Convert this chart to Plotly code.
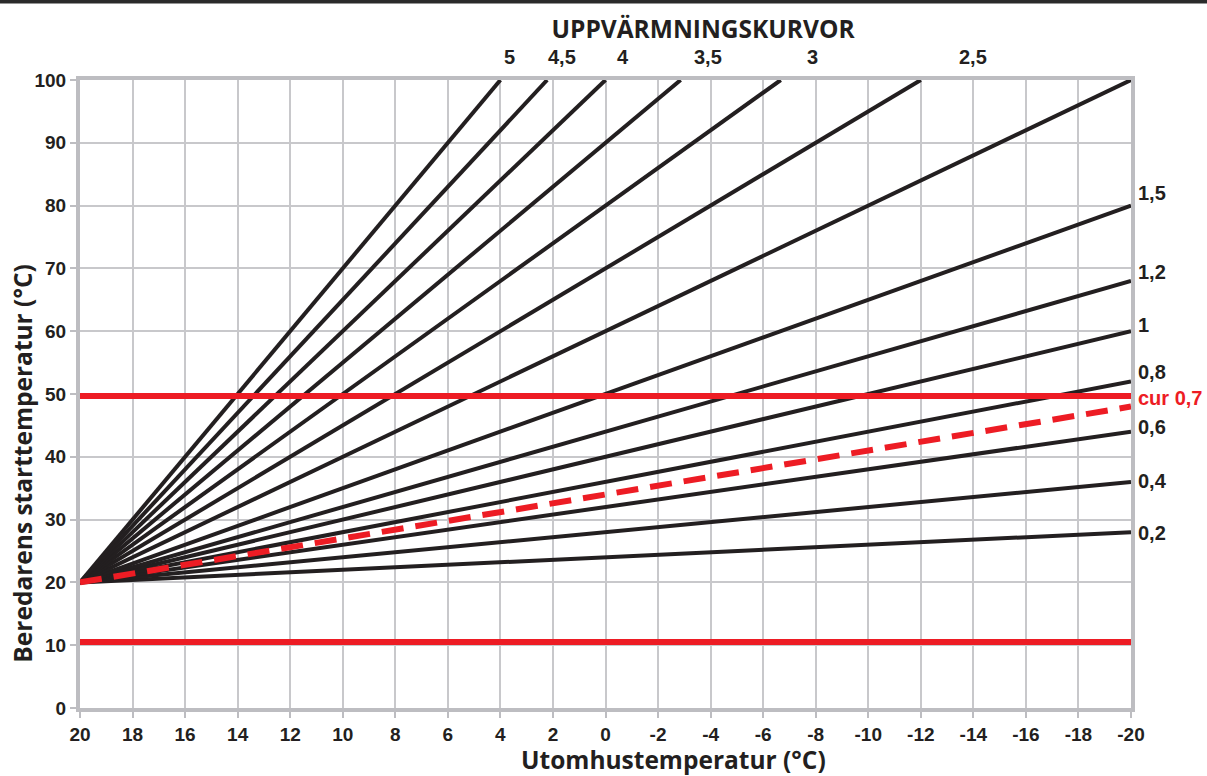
import plotly.graph_objects as go

# ---- data ----
curve_names = ["0,2", "0,4", "0,6", "0,8", "1", "1,2", "1,5", "2", "2,5", "3", "3,5", "4", "4,5", "5"]
start_x = 20
start_y = 20
end_x = [-20, -20, -20, -20, -20, -20, -20, -20, -12, -6.67, -2.86, 0, 2.22, 4]
end_y = [28, 36, 44, 52, 60, 68, 80, 100, 100, 100, 100, 100, 100, 100]

cur_name = "cur 0,7"
cur_end_x = -20
cur_end_y = 48

limit_high = 49.7
limit_low = 10.5

x_ticks = list(range(20, -21, -2))
y_ticks = list(range(0, 101, 10))

# label placement (layout)
top_labels = ["5", "4,5", "4", "3,5", "3", "2,5"]
top_label_x = [3.94, 2.26, -0.36, -3.29, -7.59, -13.38]
top_label_y = 1.016  # paper
right_labels = ["1,5", "1,2", "1", "0,8", "0,6", "0,4", "0,2"]
right_label_y = [82, 69.4, 61, 53.5, 44.7, 36.1, 27.9]
cur_label_y = 49.4

BLACK = "#231f20"
RED = "#ed1c24"
GRID = "#c8c8cb"
FRAME = "#bdbdc1"

fig = go.Figure()

for name, ex, ey in zip(curve_names, end_x, end_y):
    fig.add_trace(go.Scatter(x=[start_x, ex], y=[start_y, ey], mode="lines", name=name,
                             line=dict(color=BLACK, width=4), showlegend=False))

# horizontal red limits
for yv in [limit_high, limit_low]:
    fig.add_trace(go.Scatter(x=[20, -20], y=[yv, yv], mode="lines",
                             line=dict(color=RED, width=6), hoverinfo="skip", showlegend=False))

fig.add_trace(go.Scatter(x=[start_x, cur_end_x], y=[start_y, cur_end_y], mode="lines", name=cur_name,
                         line=dict(color=RED, width=6, dash="22px,12px"), showlegend=False))

lab_font = dict(family="Liberation Sans", size=20, color=BLACK, weight="bold")
for t, xv in zip(top_labels, top_label_x):
    fig.add_annotation(x=xv, xref="x", y=top_label_y, yref="paper", text=t, showarrow=False,
                       xanchor="left", yanchor="bottom", font=lab_font)
for t, yv in zip(right_labels, right_label_y):
    fig.add_annotation(x=1, xref="paper", y=yv, yref="y", text=t, showarrow=False, xanchor="left",
                       yanchor="middle", xshift=5, font=lab_font)
fig.add_annotation(x=1, xref="paper", y=cur_label_y, yref="y", text=cur_name, showarrow=False,
                   xanchor="left", yanchor="middle", xshift=5,
                   font=dict(family="Liberation Sans", size=20, color=RED, weight="bold"))

# axis titles
title_font = dict(family="Open Sans", size=24.5, color=BLACK, weight="bold")
fig.add_annotation(x=0.565, xref="paper", y=-0.0825, yref="paper", text="Utomhustemperatur (°C)",
                   showarrow=False, xanchor="center", yanchor="middle", font=title_font)
fig.add_annotation(x=-0.0543, xref="paper", y=0.389, yref="paper", text="Beredarens starttemperatur (°C)",
                   showarrow=False, xanchor="center", yanchor="middle", textangle=-90, font=title_font)

# top dark border
fig.add_shape(type="line", xref="paper", yref="paper", x0=-0.2, x1=1.2, y0=1.1250, y1=1.1250,
              line=dict(color="#2a2a2a", width=4))

fig.update_layout(
    width=1207, height=776,
    margin=dict(l=80, r=76, t=80, b=68),
    paper_bgcolor="white", plot_bgcolor="white",
    title=dict(text="UPPVÄRMNINGSKURVOR", x=0.5825, xanchor="center", y=0.962, yanchor="middle",
               font=dict(family="Open Sans", size=24.5, color=BLACK, weight="bold")),
    xaxis=dict(range=[20, -20], tickvals=x_ticks, ticktext=[str(v) for v in x_ticks],
               showgrid=True, gridcolor=GRID, gridwidth=1.5,
               showline=True, linecolor=FRAME, linewidth=4, mirror=True,
               ticks="outside", ticklen=6, tickcolor=FRAME, tickwidth=1.5,
               tickfont=dict(family="Liberation Sans", size=19, color=BLACK, weight="bold"),
               zeroline=False, fixedrange=True),
    yaxis=dict(range=[0, 100], tickvals=y_ticks,
               showgrid=True, gridcolor=GRID, gridwidth=1.5,
               showline=True, linecolor=FRAME, linewidth=4, mirror=True,
               ticks="outside", ticklen=6, tickcolor=FRAME, tickwidth=1.5,
               tickfont=dict(family="Liberation Sans", size=19, color=BLACK, weight="bold"),
               zeroline=False, fixedrange=True),
)

fig.write_html("out.html", config={"displayModeBar": False},
               post_script="document.body.style.margin='0';document.body.style.overflow='hidden';")
